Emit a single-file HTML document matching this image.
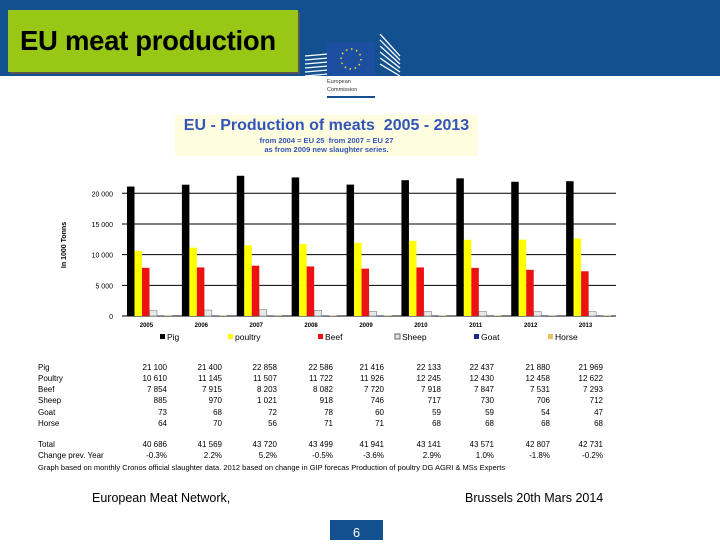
<!DOCTYPE html>
<html><head><meta charset="utf-8"><style>
body{margin:0;width:720px;height:540px;background:#fff;position:relative;overflow:hidden;font-family:"Liberation Sans",sans-serif}
.abs{position:absolute}
</style></head><body>
<div class="abs" style="left:0;top:0;width:720px;height:76px;background:#12508f"></div>
<div class="abs" style="left:8px;top:10px;width:290px;height:62px;background:#99c715;box-shadow:2px 2px 0 #555"></div>
<div class="abs" style="left:20px;top:25px;font-size:27.5px;font-weight:bold;color:#000;letter-spacing:-0.3px">EU meat production</div>
<svg class="abs" style="left:300px;top:20px" width="120" height="80">
<g stroke="#fff" stroke-width="1.3">
<line x1="5" y1="36" x2="28" y2="34"/><line x1="5" y1="40" x2="28" y2="38"/><line x1="5" y1="44" x2="28" y2="42"/><line x1="5" y1="48" x2="28" y2="46"/><line x1="5" y1="52" x2="28" y2="50"/><line x1="5" y1="56" x2="28" y2="54"/>
<line x1="80" y1="14" x2="100" y2="36"/><line x1="80" y1="20" x2="100" y2="40"/><line x1="80" y1="26" x2="100" y2="44"/><line x1="80" y1="32" x2="100" y2="48"/><line x1="80" y1="38" x2="100" y2="52"/><line x1="80" y1="44" x2="100" y2="56"/></g>
<rect x="27" y="22" width="48" height="34" fill="#1d4fa0"/>
<circle cx="51" cy="39" r="10" fill="none" stroke="#f5e21a" stroke-width="1.5" stroke-dasharray="1.5 3.7"/>
<text x="27" y="63" font-size="5.5" fill="#333" font-family="Liberation Sans">European</text>
<text x="27" y="71" font-size="5.5" fill="#333" font-family="Liberation Sans">Commission</text>
<rect x="27" y="76" width="48" height="2" fill="#12508f"/>
</svg>
<div class="abs" style="left:175px;top:115px;width:303px;height:41px;background:#fffde0;text-align:center;color:#3355bb">
<div style="font-size:16px;font-weight:bold;margin-top:2px">EU - Production of meats&nbsp; 2005 - 2013</div>
<div style="font-size:7.5px;font-weight:bold;margin-top:1px">from 2004 = EU 25&nbsp; from 2007 = EU 27</div>
<div style="font-size:7.5px;font-weight:bold">as from 2009 new slaughter series.</div></div>
<svg id="chart" class="abs" style="left:0;top:0" width="720" height="540"></svg>
<div class="abs" style="left:92px;top:491px;font-size:12.5px">European Meat Network,</div>
<div class="abs" style="left:465px;top:491px;font-size:12.5px">Brussels 20th Mars 2014</div>
<div class="abs" style="left:330px;top:520px;width:53px;height:20px;background:#12508f;color:#fff;font-size:13px;text-align:center;line-height:26px">6</div>
<script>
const years=["2005","2006","2007","2008","2009","2010","2011","2012","2013"];
const pig=[21100,21400,22858,22586,21416,22133,22437,21880,21969];
const poultry=[10610,11145,11507,11722,11926,12245,12430,12458,12622];
const beef=[7854,7915,8203,8082,7720,7918,7847,7531,7293];
const sheep=[885,970,1021,918,746,717,730,706,712];
const goat=[73,68,72,78,60,59,59,54,47];
const horse=[64,70,56,71,71,68,68,68,68];
const totals=["40 686","41 569","43 720","43 499","41 941","43 141","43 571","42 807","42 731"];
const changes=["-0.3%","2.2%","5.2%","-0.5%","-3.6%","2.9%","1.0%","-1.8%","-0.2%"];
const yTicks=[0,5000,10000,15000,20000];
const NS="http://www.w3.org/2000/svg";
const svg=document.getElementById('chart');
function mk(t,a,txt){const e=document.createElementNS(NS,t);for(const k in a)e.setAttribute(k,a[k]);if(txt!=null)e.textContent=txt;svg.appendChild(e);return e;}
const x0=122,x1=616,yb=316,yt=193.3;
const ys=v=>yb-(v/20000)*(yb-yt);
const gw=(x1-x0)/years.length;
const fmt=v=>v>=1000?Math.floor(v/1000)+" "+String(v%1000).padStart(3,"0"):String(v);
yTicks.forEach(t=>{const l=mk('line',{x1:x0,x2:x1,y1:ys(t),y2:ys(t),stroke:'#000','stroke-width':1});


const tx=mk('text',{x:113,y:ys(t)+3,'font-size':7,'text-anchor':'end','font-family':'Liberation Sans'},t===0?"0":fmt(t));

});
const yt2=mk('text',{x:0,y:0,'font-size':7,'font-weight':'bold','text-anchor':'middle',transform:'translate(66,245) rotate(-90)','font-family':'Liberation Sans'},"In 1000 Tonns");


const series=[[pig,'#000'],[poultry,'#ffff00'],[beef,'#ee1111'],[sheep,'#e8e8e8'],[goat,'#1a2a8a'],[horse,'#e8c060']];
const bw=7.5;
years.forEach((y,i)=>{const gx=x0+i*gw+5;
series.forEach((s,j)=>{const v=s[0][i];const r=mk('rect',{x:gx+j*bw,y:ys(v),width:bw,height:yb-ys(v),fill:s[1],stroke:j===3?'#666':'none','stroke-width':0.5});

});
const t=mk('text',{x:x0+i*gw+gw/2-3,y:327,'font-size':6,'font-weight':'bold','text-anchor':'middle','font-family':'Liberation Sans'},y);

});
const names=["Pig","poultry","Beef","Sheep","Goat","Horse"];
const lx=[160,228,318,395,474,548];
names.forEach((n,j)=>{const r=mk('rect',{x:lx[j],y:334,width:5,height:5,fill:series[j][1],stroke:j===3?'#666':'none'});


const t=mk('text',{x:lx[j]+7,y:340,'font-size':8.5,'font-family':'Liberation Sans'},n);

});
const colR=[167,222,277,333,384,441,494,550,603];
const rows=[["Pig",pig.map(fmt),370],["Poultry",poultry.map(fmt),381],["Beef",beef.map(fmt),392],["Sheep",sheep.map(fmt),403],["Goat",goat.map(fmt),415],["Horse",horse.map(fmt),426],["Total",totals,447],["Change prev. Year",changes,458]];
rows.forEach(r=>{const l=mk('text',{x:38,y:r[2],'font-size':8,'font-family':'Liberation Sans'},r[0]);


r[1].forEach((v,i)=>{const c=mk('text',{x:colR[i],y:r[2],'font-size':8,'text-anchor':'end','font-family':'Liberation Sans'},v);

});});
const note=mk('text',{x:38,y:470,'font-size':7.5,'font-family':'Liberation Sans'},"Graph based on monthly Cronos official slaughter data.      2012  based on change in GIP forecas Production  of poultry DG AGRI & MSs Experts");


</script>
</body></html>
